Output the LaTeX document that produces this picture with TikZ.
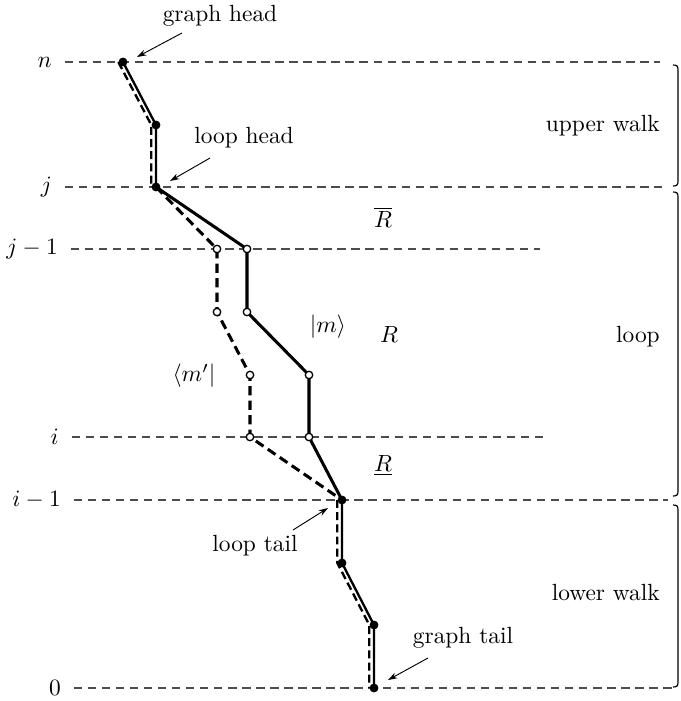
\documentclass[tikz,border=0pt]{standalone}
\usetikzlibrary{arrows.meta}
\begin{document}
\begin{tikzpicture}[x=0.4274pt,y=-0.4274pt,
  level/.style={draw=black!70, line width=0.45pt, dash pattern=on 3.6pt off 2.4pt},
  walk/.style={line width=1.3pt, line join=round},
  dwalk/.style={line width=1.3pt, dash pattern=on 4pt off 2.2pt},
  thinwalk/.style={line width=1pt, line join=round},
  thindwalk/.style={line width=1pt, dash pattern=on 3.4pt off 1.8pt},
  fdot/.style={circle, fill=black, inner sep=0pt, minimum size=3.8pt},
  odot/.style={circle, draw=black, fill=white, line width=0.55pt, inner sep=0pt, minimum size=3.2pt},
  pointer/.style={-{Stealth[length=4pt,width=2.6pt]}, line width=0.4pt},
  bracket/.style={line width=0.5pt},
]
\useasboundingbox (0,0) rectangle (680,701);

% horizontal levels with their labels
\node[anchor=east] (ln)  at (60,62)  {$n$};
\node[anchor=east] (lj)  at (60,187) {$j$};
\node[anchor=east] (lj1) at (66,249) {$j-1$};
\node[anchor=east] (li)  at (67,437) {$i$};
\node[anchor=east] (li1) at (69,500) {$i-1$};
\node[anchor=east] (l0)  at (69,688) {$0$};

\coordinate (en)  at (660,62);
\coordinate (ej)  at (662,187);
\coordinate (ej1) at (540,249);
\coordinate (ei)  at (545,437);
\coordinate (ei1) at (668,500);
\coordinate (e0)  at (672,688);

\draw[level] (ln.east)  ++(2pt,0) -- (en);
\draw[level] (lj.east)  ++(2pt,0) -- (ej);
\draw[level] (lj1.east) ++(2pt,0) -- (ej1);
\draw[level] (li.east)  ++(2pt,0) -- (ei);
\draw[level] (li1.east) ++(2pt,0) -- (ei1);
\draw[level] (l0.east)  ++(2pt,0) -- (e0);

% vertices of the walk
\coordinate (N)  at (123,62);
\coordinate (U)  at (156,125);
\coordinate (J)  at (156,187);
\coordinate (A1) at (247,249);
\coordinate (A2) at (247,312);
\coordinate (A3) at (309,375);
\coordinate (A4) at (309,437);
\coordinate (B1) at (217,249);
\coordinate (B2) at (217,312);
\coordinate (B3) at (250,375);
\coordinate (B4) at (250,437);
\coordinate (I)  at (342,500);
\coordinate (L)  at (342,563);
\coordinate (T)  at (374,625);
\coordinate (Z)  at (374,688);

% dashed walk (bra), set aside where it runs along the solid one
\draw[thindwalk] ([xshift=-2pt]N) -- ([xshift=-2pt]U) -- ([xshift=-2pt]J);
\draw[dwalk] (J) -- (B1) -- (B2) -- (B3) -- (B4) -- (I);
\draw[thindwalk] ([xshift=-2pt]I) -- ([xshift=-2pt]L) -- ([xshift=-2pt]T) -- ([xshift=-2pt]Z);

% solid walk (ket)
\draw[thinwalk] (N) -- (U) -- (J);
\draw[walk] (J) -- (A1) -- (A2) -- (A3) -- (A4) -- (I);
\draw[thinwalk] (I) -- (L) -- (T) -- (Z);

% vertices
\foreach \p in {N,U,J,I,L,T,Z} \node[fdot] at (\p) {};
\foreach \p in {A1,A2,A3,A4,B1,B2,B3,B4} \node[odot] at (\p) {};

% annotations with pointers
\node (gh) at (220,16) {graph head};
\coordinate (ghtail) at (182,33);
\coordinate (ghtip)  at (137,57);
\draw[pointer] (ghtail) -- (ghtip);

\node (lh) at (244,138) {loop head};
\coordinate (lhtail) at (210,158);
\coordinate (lhtip)  at (170,181);
\draw[pointer] (lhtail) -- (lhtip);

\node (lt) at (255,546) {loop tail};
\coordinate (lttail) at (293,530);
\coordinate (lttip)  at (328,508);
\draw[pointer] (lttail) -- (lttip);

\node (gt) at (463,638) {graph tail};
\coordinate (gttail) at (428,658);
\coordinate (gttip)  at (388,680);
\draw[pointer] (gttail) -- (gttip);

% regions and states
\node (Rbar) at (383,217) {$\overline{R}$};
\node (Rmid) at (389,334) {$R$};
\node (Rlow) at (383,466) {$\underline{R}$};
\node (ket)  at (328,327) {$|m\rangle$};
\node (bra)  at (194,376) {$\langle m'|$};

% segments on the right
\draw[bracket] (673,65) .. controls (677,65) and (678,66) .. (678,70) -- (678,181) .. controls (678,185) and (677,186) .. (673,186);
\draw[bracket] (673,192) .. controls (677,192) and (678,193) .. (678,197) -- (678,491) .. controls (678,495) and (677,496) .. (673,496);
\draw[bracket] (673,505) .. controls (677,505) and (678,506) .. (678,510) -- (678,682) .. controls (678,686) and (677,687) .. (673,687);
\node[anchor=east] (uw) at (668,126) {upper walk};
\node[anchor=east] (lp) at (668,337) {loop};
\node[anchor=east] (lw) at (668,593) {lower walk};
\end{tikzpicture}
\end{document}
